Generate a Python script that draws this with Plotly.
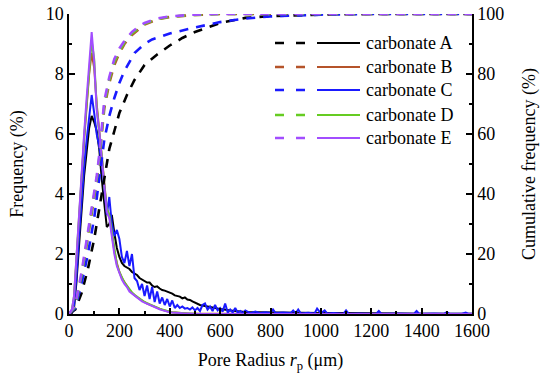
import plotly.graph_objects as go

# ---------------- data ----------------
X_MAIN = list(range(0, 710, 10))  # pore radius grid 0..700 µm

FREQ_A = [0, 0, 0.2, 1.1, 2.3, 3.5, 4.6, 5.4, 6.2, 6.6,
          6.4, 6.1, 5.5, 4.5, 3.6, 2.9, 3.0, 3.3, 2.7, 2.2,
          1.9, 1.7, 1.6, 1.55, 1.5, 1.4, 1.35, 1.3, 1.2, 1.15,
          1.1, 1.05, 1.05, 0.95, 0.9, 0.92, 0.85, 0.8, 0.78, 0.75,
          0.7, 0.68, 0.62, 0.6, 0.58, 0.52, 0.55, 0.48, 0.47, 0.42,
          0.38, 0.33, 0.3, 0.28, 0.26, 0.24, 0.24, 0.2, 0.2, 0.18,
          0.17, 0.15, 0.14, 0.13, 0.12, 0.11, 0.1, 0.09, 0.08, 0.08,
          0.07]
TAIL_A_X = [750, 800, 900, 1000, 1100, 1200, 1400, 1600]
TAIL_A_Y = [0.06, 0.05, 0.04, 0.03, 0.03, 0.02, 0.01, 0.01]

FREQ_B = [0, 0.05, 0.5, 1.9, 3.3, 4.6, 5.8, 6.9, 8.0, 8.7,
          8.2, 7.0, 6.2, 5.4, 4.4, 3.5, 3.3, 2.7, 2.1, 1.7,
          1.4, 1.2, 1.05, 0.92, 0.8, 0.7, 0.62, 0.56, 0.5, 0.44,
          0.4, 0.35, 0.31, 0.27, 0.23, 0.2, 0.17, 0.14, 0.11, 0.09,
          0.07, 0.06, 0.05, 0.04, 0.03, 0.03, 0.02, 0.02, 0.01, 0.01,
          0.01, 0, 0, 0, 0, 0, 0, 0, 0, 0,
          0, 0, 0, 0, 0, 0, 0, 0, 0, 0,
          0]
FREQ_C = [0, 0.05, 0.3, 1.3, 2.6, 3.8, 4.9, 5.8, 6.6, 7.3,
          6.7, 6.0, 5.6, 5.0, 4.2, 3.3, 3.9, 3.0, 2.6, 2.8,
          2.5, 1.9, 1.7, 2.1, 1.6, 2.0, 1.2, 1.1, 0.8, 1.0,
          0.6, 0.95, 0.5, 0.9, 0.4, 0.75, 0.35, 0.55, 0.3, 0.5,
          0.25, 0.45, 0.2, 0.3, 0.2, 0.25, 0.18, 0.2, 0.15, 0.22,
          0.12, 0.2, 0.1, 0.3, 0.35, 0.15, 0.25, 0.1, 0.3, 0.12,
          0.2, 0.08, 0.35, 0.05, 0.15, 0.05, 0.2, 0.04, 0.1, 0.03,
          0.12]
TAIL_C_X = [720, 740, 760, 780, 800, 810, 820, 850, 880, 890,
            900, 910, 920, 950, 975, 985, 1000, 1015, 1025, 1050,
            1090, 1100, 1110, 1150, 1220, 1230, 1240, 1300, 1370, 1380,
            1390, 1450, 1490, 1500, 1510, 1560, 1575, 1585, 1600]
TAIL_C_Y = [0.03, 0.08, 0.03, 0.06, 0.03, 0.15, 0.03, 0.05, 0.03, 0.12,
            0.02, 0.15, 0.02, 0.04, 0.02, 0.18, 0.02, 0.12, 0.02, 0.03,
            0.01, 0.12, 0.01, 0.02, 0.01, 0.1, 0.01, 0.02, 0.01, 0.1,
            0.01, 0.02, 0.01, 0.06, 0.01, 0.01, 0.05, 0.01, 0.01]
FREQ_D = [0, 0.05, 0.6, 2.0, 3.4, 4.7, 5.9, 7.0, 8.1, 9.1,
          8.5, 6.9, 6.0, 5.3, 4.3, 3.5, 3.3, 2.7, 2.1, 1.65,
          1.4, 1.2, 1.05, 0.95, 0.82, 0.72, 0.64, 0.58, 0.5, 0.45,
          0.4, 0.36, 0.32, 0.28, 0.24, 0.21, 0.18, 0.15, 0.12, 0.1,
          0.08, 0.06, 0.05, 0.04, 0.03, 0.03, 0.02, 0.02, 0.02, 0.01,
          0.01, 0, 0, 0, 0, 0, 0, 0, 0, 0,
          0, 0, 0, 0, 0, 0, 0, 0, 0, 0,
          0]
FREQ_E = [0, 0.05, 0.6, 2.0, 3.5, 4.8, 6.0, 7.2, 8.3, 9.4,
          8.4, 6.8, 6.1, 5.2, 4.2, 3.4, 3.2, 2.6, 2.0, 1.6,
          1.35, 1.15, 1.0, 0.9, 0.75, 0.68, 0.6, 0.55, 0.48, 0.42,
          0.38, 0.34, 0.3, 0.26, 0.22, 0.2, 0.16, 0.13, 0.1, 0.08,
          0.06, 0.05, 0.04, 0.03, 0.03, 0.02, 0.02, 0.02, 0.01, 0.01,
          0.01, 0, 0, 0, 0, 0, 0, 0, 0, 0,
          0, 0, 0, 0, 0, 0, 0, 0, 0, 0,
          0]
TAIL_BDE_X = [800, 1600]
TAIL_BDE_Y = [0, 0]

CUM_A_X = [0, 25, 50, 75, 100, 120, 140, 160, 180, 200, 230, 260, 300, 350, 400,
           450, 500, 600, 700, 800, 1000, 1200, 1600]
CUM_A = [0, 1.5, 7, 15, 25, 35, 45, 55, 61, 67, 73, 78, 83, 86.5, 89.5,
         92, 94, 97, 98.7, 99.3, 99.8, 100, 100]
CUM_C_X = [0, 25, 50, 75, 100, 120, 140, 160, 180, 200, 220, 260, 300, 330, 400,
           500, 600, 700, 800, 1000, 1200, 1600]
CUM_C = [0, 2, 10, 20, 32, 45, 58, 66, 72, 77, 81, 87, 90, 91.5, 93.5,
         95.5, 97.3, 98.5, 99.2, 99.8, 100, 100]
CUM_BDE_X = [0, 25, 50, 75, 100, 110, 120, 130, 140, 160, 180, 200, 220, 250, 280,
             300, 350, 400, 500, 600, 800, 1000, 1200, 1400, 1600]
CUM_B = [0, 2.5, 12.5, 25, 38, 44, 51, 60, 68.5, 77, 83, 87, 90, 93, 95.2,
         96.5, 98.2, 99, 99.7, 100, 100, 100, 100, 100, 100]
CUM_D = [0, 2.5, 13, 26, 39, 45, 52, 61, 69.5, 78, 84, 87.5, 90.5, 93.5, 95.5,
         96.7, 98.3, 99.1, 99.7, 100, 100, 100, 100, 100, 100]
CUM_E = [0, 3, 14, 27, 40, 46, 53, 63, 71, 79, 85, 88.5, 91, 94, 96,
         97, 98.5, 99.2, 99.8, 100, 100, 100, 100, 100, 100]

NAMES = ["carbonate A", "carbonate B", "carbonate C", "carbonate D", "carbonate E"]
COLORS = ["#000000", "#b5532a", "#1a1aff", "#66cc22", "#a24dff"]

X_TICKS = [0, 200, 400, 600, 800, 1000, 1200, 1400, 1600]
Y_TICKS = [0, 2, 4, 6, 8, 10]
Y2_TICKS = [0, 20, 40, 60, 80, 100]

# ---------------- figure ----------------
FONT = "Times New Roman, Liberation Serif, serif"
W, H = 550, 388
fig = go.Figure()

freq_series = [
    (X_MAIN + TAIL_A_X, FREQ_A + TAIL_A_Y),
    (X_MAIN + TAIL_BDE_X, FREQ_B + TAIL_BDE_Y),
    (X_MAIN + TAIL_C_X, FREQ_C + TAIL_C_Y),
    (X_MAIN + TAIL_BDE_X, FREQ_D + TAIL_BDE_Y),
    (X_MAIN + TAIL_BDE_X, FREQ_E + TAIL_BDE_Y),
]
cum_series = [
    (CUM_A_X, CUM_A), (CUM_BDE_X, CUM_B), (CUM_C_X, CUM_C),
    (CUM_BDE_X, CUM_D), (CUM_BDE_X, CUM_E),
]

for (cx, cy), name, col in zip(cum_series, NAMES, COLORS):
    fig.add_trace(go.Scatter(x=cx, y=cy, mode="lines", name=name + " cumulative",
                             yaxis="y2", showlegend=False,
                             line=dict(color=col, width=2.6, dash="9px,8px")))
for (fx, fy), name, col in zip(freq_series, NAMES, COLORS):
    fig.add_trace(go.Scatter(x=fx, y=fy, mode="lines", name=name,
                             yaxis="y", showlegend=False,
                             line=dict(color=col, width=2)))

# target plot-area box on screen (pixels)
PX_L, PX_R, PX_T, PX_B = 69, 472, 14, 314
def px2paper(px, py):
    return (px - PX_L) / (PX_R - PX_L), (PX_B - py) / (PX_B - PX_T)

LEG_Y = [43, 67, 90, 115, 138]
for name, col, ly in zip(NAMES, COLORS, LEG_Y):
    x0, yy = px2paper(275, ly)
    x1, _ = px2paper(306, ly)
    x2, _ = px2paper(317, ly)
    x3, _ = px2paper(360, ly)
    xt, _ = px2paper(364, ly)
    fig.add_shape(type="line", xref="paper", yref="paper", x0=x0, x1=x1, y0=yy, y1=yy,
                  line=dict(color=col, width=2.6, dash="9px,12px"))
    fig.add_shape(type="line", xref="paper", yref="paper", x0=x2, x1=x3, y0=yy, y1=yy,
                  line=dict(color=col, width=2.2))
    fig.add_annotation(xref="paper", yref="paper", x=xt, y=yy, text=name,
                       showarrow=False, xanchor="left", yanchor="middle",
                       font=dict(family=FONT, size=18, color="black"))

axis_common = dict(showgrid=False, zeroline=False, showline=True, linecolor="black",
                   linewidth=1.5, ticks="inside", tickcolor="black", tickwidth=1.5,
                   ticklen=6, automargin=False, ticklabeloverflow="allow",
                   tickfont=dict(family=FONT, size=18, color="black"))

fig.update_layout(
    width=W, height=H,
    font=dict(family=FONT, size=18, color="black"),
    margin=dict(l=PX_L, r=W - PX_R, t=PX_T, b=H - PX_B, pad=0),
    plot_bgcolor="white", paper_bgcolor="white",
    xaxis=dict(range=[0, 1600], tickvals=X_TICKS, ticktext=[str(v) for v in X_TICKS],
               minor=dict(dtick=100, ticks="inside", ticklen=3, tickcolor="black", tickwidth=1.5),
               title=dict(text="Pore Radius <i>r</i><sub>p</sub> (μm)",
                          font=dict(family=FONT, size=18, color="black"), standoff=13),
               **axis_common),
    yaxis=dict(range=[0, 10], tickvals=Y_TICKS, ticktext=[str(v) for v in Y_TICKS],
               minor=dict(dtick=1, ticks="inside", ticklen=3, tickcolor="black", tickwidth=1.5),
               title=dict(text="Frequency (%)", font=dict(family=FONT, size=18, color="black"),
                          standoff=17),
               ticklabelstandoff=0,
               **axis_common),
    yaxis2=dict(range=[0, 100], overlaying="y", side="right",
                tickvals=Y2_TICKS, ticktext=[str(v) for v in Y2_TICKS],
                minor=dict(dtick=10, ticks="inside", ticklen=3, tickcolor="black", tickwidth=1.5),
                title=dict(text="Cumulative frequency (%)",
                           font=dict(family=FONT, size=18, color="black"), standoff=19),
                ticklabelstandoff=0,
                **axis_common),
)

fig.write_html("out.html", config={"displayModeBar": False},
               post_script="document.body.style.margin='0';document.body.style.padding='0';")
